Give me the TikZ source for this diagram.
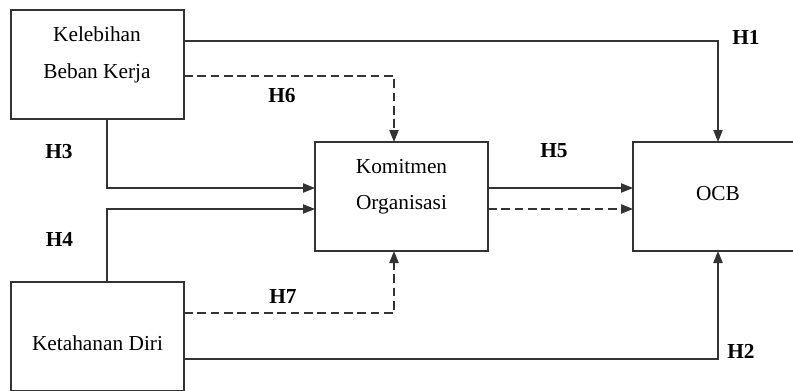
\documentclass[tikz,border=0pt]{standalone}
\usepackage{fontspec}
\setmainfont{Liberation Serif}
\usetikzlibrary{arrows.meta}
\begin{document}
\begin{tikzpicture}[x=0.75pt,y=-0.75pt,
  varbox/.style={draw=black!80, line width=0.9pt, minimum width=129.75pt,
    minimum height=81.75pt, inner sep=0pt, outer sep=0pt},
  link/.style={draw=black!80, line width=0.9pt},
  arr/.style={link, -{Triangle[length=9pt,width=7pt]}},
  dasharr/.style={arr, dash pattern=on 6.5pt off 3.5pt},
  txt/.style={anchor=base, font=\fontsize{16}{19}\selectfont, inner sep=0pt},
  hyp/.style={txt, font=\fontsize{16}{19}\selectfont\bfseries}]
\useasboundingbox (0,0) rectangle (793,390);
\clip (0,0) rectangle (793,390);
\fill[white] (0,0) rectangle (793,390);

% variable boxes
\node[varbox] (A) at (97.5,64.5) {};
\node[varbox] (K) at (401.5,196.5) {};
\node[varbox, minimum width=127.5pt] (O) at (718,196.5) {};
\node[varbox] (D) at (97.5,336.5) {};

% box texts
\node[txt] (a1) at (97,41) {Kelebihan};
\node[txt] (a2) at (97,78) {Beban Kerja};
\node[txt] (k1) at (401.5,173) {Komitmen};
\node[txt] (k2) at (401.5,209) {Organisasi};
\node[txt] (o1) at (718,200) {OCB};
\node[txt] (d1) at (97.5,350) {Ketahanan Diri};

% paths
\draw[arr] (A.east |- 0,41) -| (O.north);
\draw[dasharr] (A.east |- 0,76) -| (394,0 |- K.north);
\draw[arr] (A.south -| 107,0) |- (K.west |- 0,188);
\draw[arr] (D.north -| 107,0) |- (K.west |- 0,209);
\draw[arr] (K.east |- 0,188) -- (O.west |- 0,188);
\draw[dasharr] (K.east |- 0,209) -- (O.west |- 0,209);
\draw[dasharr] (D.east |- 0,313) -| (394,0 |- K.south);
\draw[arr] (D.east |- 0,359) -| (O.south);

% hypothesis labels
\node[hyp] (h1) at (746,44) {H1};
\node[hyp] (h2) at (741,358) {H2};
\node[hyp] (h3) at (59,158) {H3};
\node[hyp] (h4) at (59.5,246) {H4};
\node[hyp] (h5) at (554,157) {H5};
\node[hyp] (h6) at (282,102) {H6};
\node[hyp] (h7) at (283,303) {H7};
\end{tikzpicture}
\end{document}
